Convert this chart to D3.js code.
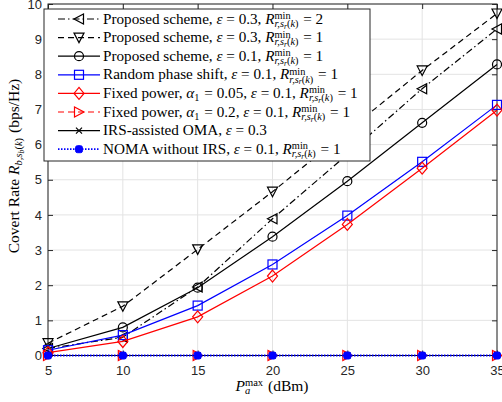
<!DOCTYPE html>
<html><head><meta charset="utf-8">
<script src="https://cdn.jsdelivr.net/npm/d3@7"></script>
<style>body{margin:0;background:#fff}svg{display:block}text{white-space:pre}</style>
</head><body><svg id="c" width="502" height="402"></svg>
<script>
// ---- data ----
const xValues = [5, 10, 15, 20, 25, 30, 35];
const propEps03R2 = [0.20, 0.52, 1.95, 3.89, 5.72, 7.59, 9.29];
const propEps03R1 = [0.35, 1.40, 3.02, 4.66, 6.38, 8.11, 9.73];
const propEps01R1 = [0.20, 0.80, 1.93, 3.38, 4.96, 6.62, 8.28];
const randomPhase = [0.15, 0.58, 1.42, 2.59, 3.98, 5.51, 7.13];
const fixedA005 = [0.08, 0.40, 1.10, 2.26, 3.73, 5.33, 6.98];
const fixedA02 = [0, 0, 0, 0, 0, 0, 0];
const irsOMA = [0, 0, 0, 0, 0, 0, 0];
const nomaNoIRS = [0, 0, 0, 0, 0, 0, 0];
const xTicks = [5, 10, 15, 20, 25, 30, 35];
const yTicks = [0, 1, 2, 3, 4, 5, 6, 7, 8, 9, 10];

const series = [
  {vals: propEps03R2, color: "#000", dash: "7,3,1.5,3", marker: "triL"},
  {vals: propEps03R1, color: "#000", dash: "6,4", marker: "triD"},
  {vals: propEps01R1, color: "#000", dash: null, marker: "circ"},
  {vals: randomPhase, color: "#0000ff", dash: null, marker: "sq"},
  {vals: fixedA005, color: "#ff0000", dash: null, marker: "diam"},
  {vals: fixedA02, color: "#ff0000", dash: "6,4", marker: "triR"},
  {vals: irsOMA, color: "#000", dash: null, marker: "x"},
  {vals: nomaNoIRS, color: "#0000ff", dash: "1.5,1.5", marker: "dot", lw: 1.8}
];

const M = {l: 48, r: 497, t: 4, b: 355.5};
const svg = d3.select("#c");
const x = d3.scaleLinear().domain([5, 35]).range([M.l, M.r]);
const y = d3.scaleLinear().domain([0, 10]).range([M.b, M.t]);

// grid
svg.append("g").selectAll("line").data(xTicks).join("line")
  .attr("x1", d => x(d)).attr("x2", d => x(d)).attr("y1", M.t).attr("y2", M.b)
  .attr("stroke", "#e3e3e3").attr("stroke-width", 1);
svg.append("g").selectAll("line").data(yTicks).join("line")
  .attr("y1", d => y(d)).attr("y2", d => y(d)).attr("x1", M.l).attr("x2", M.r)
  .attr("stroke", "#e3e3e3").attr("stroke-width", 1);

// axes
const tickLen = 5;
const axB = svg.append("g").attr("transform", `translate(0,${M.b})`)
  .call(d3.axisBottom(x).tickValues(xTicks).tickSize(-tickLen).tickPadding(10).tickFormat(d3.format("d")));
const axT = svg.append("g").attr("transform", `translate(0,${M.t})`)
  .call(d3.axisTop(x).tickValues(xTicks).tickSize(-tickLen).tickFormat(""));
const axL = svg.append("g").attr("transform", `translate(${M.l},0)`)
  .call(d3.axisLeft(y).tickValues(yTicks).tickSize(-tickLen).tickPadding(10).tickFormat(d3.format("d")));
const axR = svg.append("g").attr("transform", `translate(${M.r},0)`)
  .call(d3.axisRight(y).tickValues(yTicks).tickSize(-tickLen).tickFormat(""));
[axB, axT, axL, axR].forEach(a => {
  a.select(".domain").remove();
  a.selectAll("line").attr("stroke", "#262626");
  a.selectAll("text").attr("font-family", "Liberation Sans, Arial, sans-serif").attr("font-size", 13).attr("fill", "#262626");
});
axL.selectAll("text").attr("dx", 4);
svg.append("rect").attr("x", M.l).attr("y", M.t).attr("width", M.r - M.l).attr("height", M.b - M.t)
  .attr("fill", "none").attr("stroke", "#262626").attr("stroke-width", 1);

// markers
function drawMarker(g, type, cx, cy, color) {
  if (type === "circ") g.append("circle").attr("cx", cx).attr("cy", cy).attr("r", 4.5).attr("fill", "none").attr("stroke", color).attr("stroke-width", 1.2);
  else if (type === "sq") g.append("rect").attr("x", cx - 4.5).attr("y", cy - 4.5).attr("width", 9).attr("height", 9).attr("fill", "none").attr("stroke", color).attr("stroke-width", 1.2);
  else if (type === "diam") g.append("path").attr("d", `M${cx},${cy - 6}L${cx + 5},${cy}L${cx},${cy + 6}L${cx - 5},${cy}Z`).attr("fill", "none").attr("stroke", color).attr("stroke-width", 1.2);
  else if (type === "triD") g.append("path").attr("d", `M${cx - 5},${cy - 4.5}L${cx + 5},${cy - 4.5}L${cx},${cy + 5}Z`).attr("fill", "none").attr("stroke", color).attr("stroke-width", 1.2);
  else if (type === "triL") g.append("path").attr("d", `M${cx + 4.5},${cy - 5}L${cx + 4.5},${cy + 5}L${cx - 5},${cy}Z`).attr("fill", "none").attr("stroke", color).attr("stroke-width", 1.2);
  else if (type === "triR") g.append("path").attr("d", `M${cx - 4.5},${cy - 5}L${cx - 4.5},${cy + 5}L${cx + 5},${cy}Z`).attr("fill", "none").attr("stroke", color).attr("stroke-width", 1.2);
  else if (type === "x") g.append("path").attr("d", `M${cx - 3},${cy - 3}L${cx + 3},${cy + 3}M${cx - 3},${cy + 3}L${cx + 3},${cy - 3}`).attr("stroke", color).attr("stroke-width", 1.2);
  else if (type === "dot") g.append("rect").attr("x", cx - 3.5).attr("y", cy - 3.5).attr("width", 7).attr("height", 7).attr("rx", 2).attr("fill", color).attr("stroke", color);
}

const plot = svg.append("g");
const line = d3.line().x((d, i) => x(xValues[i])).y(d => y(d));
series.forEach(s => {
  plot.append("path").datum(s.vals).attr("d", line).attr("fill", "none")
    .attr("stroke", s.color).attr("stroke-width", s.lw || 1.2).attr("stroke-dasharray", s.dash);
  s.vals.forEach((v, i) => drawMarker(plot, s.marker, x(xValues[i]), y(v), s.color));
});

// rich text helper: one <text> element, tspans with absolute x/y
const SERIF = "Liberation Serif, Times New Roman, serif";
function rich(g, x0, y0, parts, fs) {
  const txt = g.append("text").attr("font-family", SERIF).attr("font-size", fs).attr("fill", "#000")
    .attr("xml:space", "preserve").style("white-space", "pre");
  let cx = x0;
  function put(t, italic, size, dy) {
    const ts = txt.append("tspan").attr("x", cx).attr("y", y0 + dy)
      .attr("font-size", size).attr("font-style", italic ? "italic" : "normal").text(t);
    return ts.node().getComputedTextLength();
  }
  parts.forEach(p => {
    if (p.stack) {
      const start = cx;
      let w1 = p.sup ? put(p.sup, false, fs * 0.68, -fs * 0.3) : 0;
      cx = start;
      let w2 = 0;
      p.sub.forEach(q => { const w = put(q[0], q[1], q[2] * fs, q[3] * fs); cx += w; w2 += w; });
      cx = start + Math.max(w1, w2) + 1;
    } else {
      cx += put(p[0], p[1], fs, 0);
    }
  });
  return {node: txt, width: cx - x0};
}
const subR = [["r,s", true, 0.68, 0.22], ["r", true, 0.5, 0.34], ["(", false, 0.68, 0.22], ["k", true, 0.68, 0.22], [")", false, 0.68, 0.22]];
const Rmin = {stack: true, sup: "min", sub: subR};
const a1 = {stack: true, sup: "", sub: [["1", false, 0.68, 0.22]]};

const legendLabels = [
  [["Proposed scheme, ", false], ["ε", true], [" = 0.3, ", false], ["R", true], Rmin, [" = 2", false]],
  [["Proposed scheme, ", false], ["ε", true], [" = 0.3, ", false], ["R", true], Rmin, [" = 1", false]],
  [["Proposed scheme, ", false], ["ε", true], [" = 0.1, ", false], ["R", true], Rmin, [" = 1", false]],
  [["Random phase shift, ", false], ["ε", true], [" = 0.1, ", false], ["R", true], Rmin, [" = 1", false]],
  [["Fixed power, ", false], ["α", true], a1, [" = 0.05, ", false], ["ε", true], [" = 0.1, ", false], ["R", true], Rmin, [" = 1", false]],
  [["Fixed power, ", false], ["α", true], a1, [" = 0.2, ", false], ["ε", true], [" = 0.1, ", false], ["R", true], Rmin, [" = 1", false]],
  [["IRS-assisted OMA, ", false], ["ε", true], [" = 0.3", false]],
  [["NOMA without IRS, ", false], ["ε", true], [" = 0.1, ", false], ["R", true], Rmin, [" = 1", false]]
];

// legend
const FS = 15.2;
const L = {x: 44, y: 9, w: 326, h: 152, row0: 19, dy: 18.6};
const lg = svg.append("g");
lg.append("rect").attr("x", L.x).attr("y", L.y).attr("width", L.w).attr("height", L.h)
  .attr("fill", "#fff").attr("stroke", "#262626").attr("stroke-width", 1);
series.forEach((s, i) => {
  const cy = L.row0 + i * L.dy;
  lg.append("line").attr("x1", 58).attr("x2", 100).attr("y1", cy).attr("y2", cy)
    .attr("stroke", s.color).attr("stroke-width", s.lw || 1.2).attr("stroke-dasharray", s.dash);
  drawMarker(lg, s.marker, 79, cy, s.color);
  rich(lg, 103, cy + 4.5, legendLabels[i], FS);
});

// axis labels
const yParts = [["Covert Rate ", false], ["R", true], {stack: true, sup: "", sub: [["b,s", true, 0.68, 0.22], ["b", true, 0.5, 0.34], ["(", false, 0.68, 0.22], ["k", true, 0.68, 0.22], [")", false, 0.68, 0.22]]}, [" (bps/Hz)", false]];
const tmp = svg.append("g").attr("opacity", 0);
const yw = rich(tmp, 0, 0, yParts, 15.5).width; tmp.remove();
const yl = svg.append("g").attr("transform", "translate(19,0) rotate(-90)");
rich(yl, -166 - yw / 2, 0, yParts, 15.5);
const xParts = [["P", true], {stack: true, sup: "max", sub: [["a", true, 0.68, 0.22]]}, [" (dBm)", false]];
const tmp2 = svg.append("g").attr("opacity", 0);
const xw = rich(tmp2, 0, 0, xParts, 15.5).width; tmp2.remove();
rich(svg.append("g"), 272 - xw / 2, 391, xParts, 15.5);
</script></body></html>
